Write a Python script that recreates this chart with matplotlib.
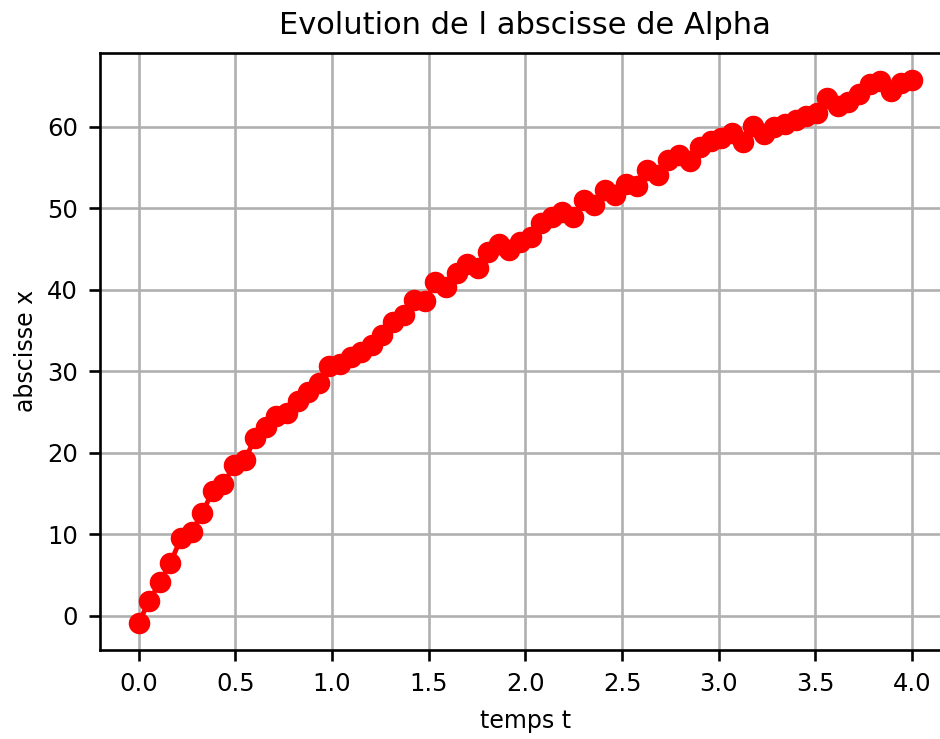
import numpy as np
import matplotlib
matplotlib.use("Agg")
import matplotlib.pyplot as plt

t = np.linspace(0.0, 4.0, 74)
x = [-0.9, 1.8, 4.1, 6.5, 9.5, 10.3, 12.6, 15.3, 16.1, 18.5,
     19.1, 21.8, 23.2, 24.5, 24.9, 26.4, 27.4, 28.6, 30.7, 30.9,
     31.7, 32.4, 33.2, 34.5, 36.0, 36.9, 38.8, 38.6, 40.9, 40.4,
     42.1, 43.2, 42.7, 44.7, 45.6, 44.9, 45.9, 46.5, 48.2, 48.9,
     49.6, 48.9, 51.0, 50.4, 52.3, 51.7, 53.0, 52.8, 54.7, 54.1,
     55.9, 56.6, 55.8, 57.5, 58.3, 58.7, 59.2, 58.1, 60.1, 59.1,
     60.0, 60.4, 60.9, 61.3, 61.7, 63.6, 62.6, 63.1, 64.0, 65.3,
     65.7, 64.4, 65.4, 65.8]

fig = plt.figure(figsize=(9.4, 7.39), dpi=100)
ax = fig.add_axes([0.1064, 0.1204, 0.905, 0.8085])

ax.plot(t, x, 'ro-', markersize=14.5, linewidth=3.5)

ax.set_title("Evolution de l abscisse de Alpha", fontsize=22, pad=13)
ax.set_xlabel("temps t", fontsize=17, labelpad=9)
ax.set_ylabel("abscisse x", fontsize=17, labelpad=6)
ax.set_xticks(np.arange(0.0, 4.01, 0.5))
ax.set_yticks(np.arange(0, 61, 10))
ax.tick_params(labelsize=17.5, width=1.9, length=8, pad=8)
for s in ax.spines.values():
    s.set_linewidth(1.9)
ax.grid(True, color='#b0b0b0', linewidth=1.9)

fig.savefig("out.png", dpi=100)
